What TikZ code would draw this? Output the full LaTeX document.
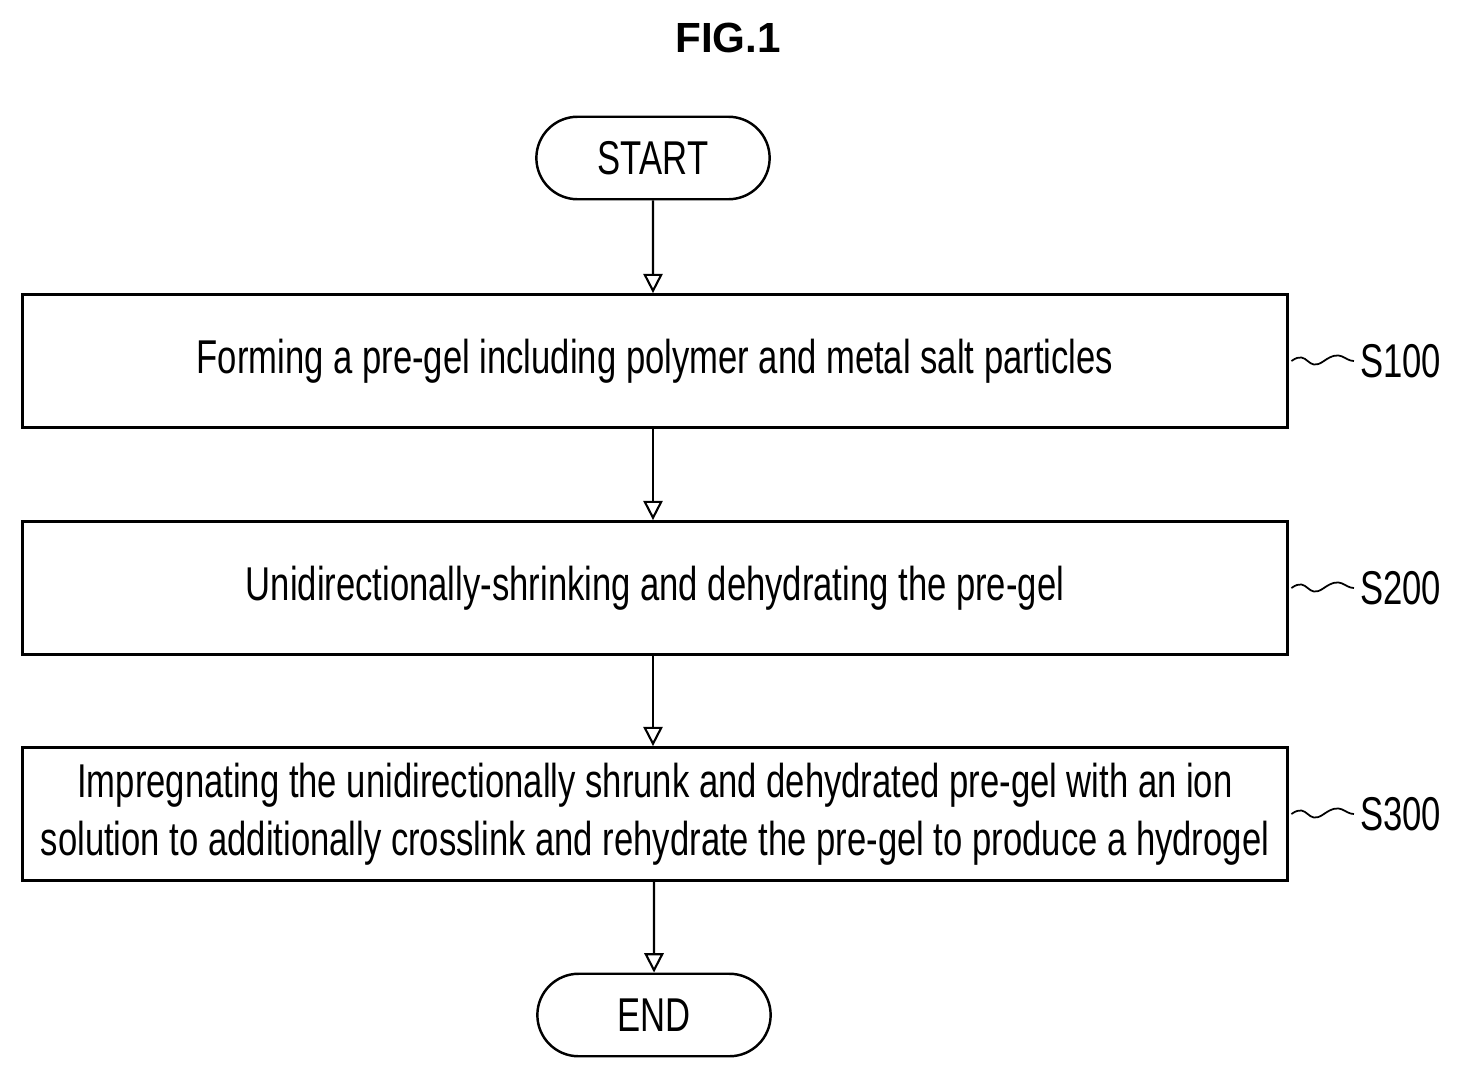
\documentclass[tikz,border=0pt]{standalone}
\usepackage{fontspec}
\setmainfont{Liberation Sans}[FakeStretch=0.73]
\newfontfamily\figfont{Liberation Sans}
\usetikzlibrary{positioning,arrows.meta,shapes}
\tikzset {
    stepbox/.style={
        draw=black,
        line width=1.6pt,
        rectangle, % Set the shape as a rectangle
        minimum width=25.3cm,
        minimum height=2.66cm,
        align=center,
        font=\fontsize{27}{33}\selectfont,
    },
    terminal/.style={
        draw=black,
        line width=1.4pt,
        rounded rectangle,
        minimum width=4.9cm,
        minimum height=1.65cm,
        font=\fontsize{27}{33}\selectfont,
    },
    flow/.style={line width=1.2pt, -{Triangle[open,length=11pt,width=11pt]}},
    steplabel/.style={font=\fontsize{27}{33}\selectfont, anchor=west},
}
\begin{document}
\begin{tikzpicture}
        \useasboundingbox (0,0) rectangle (29.16,-21.62);
        \node[font=\figfont\bfseries\fontsize{24}{28}\selectfont] at (14.56,-0.76) (fig) {FIG.1};

        \node[terminal] at (13.06,-3.16) (start) {START};
        \node[stepbox] at (13.1,-7.22) (s100) {Forming a pre-gel including polymer and metal salt particles};
        \node[stepbox] at (13.1,-11.76) (s200) {Unidirectionally-shrinking and dehydrating the pre-gel};
        \node[stepbox] at (13.1,-16.28) (s300) {Impregnating the unidirectionally shrunk and dehydrated pre-gel with an ion\\solution to additionally crosslink and rehydrate the pre-gel to produce a hydrogel};
        \node[terminal] at (13.08,-20.3) (end) {END};

        \draw[flow] (start) -- (start |- s100.north);
        \draw[flow] (s100.south -| start) -- (s200.north -| start);
        \draw[flow] (s200.south -| start) -- (s300.north -| start);
        \draw[flow] (s300.south -| end) -- (end);

        % step labels
        \foreach \n/\t in {s100/S100, s200/S200, s300/S300} {
            \node[steplabel] at ([xshift=1.3cm]\n.east) (l\n) {\t};
            \draw[line width=1pt] ([xshift=0.05cm]\n.east) .. controls +(0.35,0.25) and +(-0.35,-0.25) .. ([xshift=0.7cm]\n.east)
                .. controls +(0.35,0.25) and +(-0.2,0) .. (l\n.west);
        }
    \end{tikzpicture}
\end{document}
